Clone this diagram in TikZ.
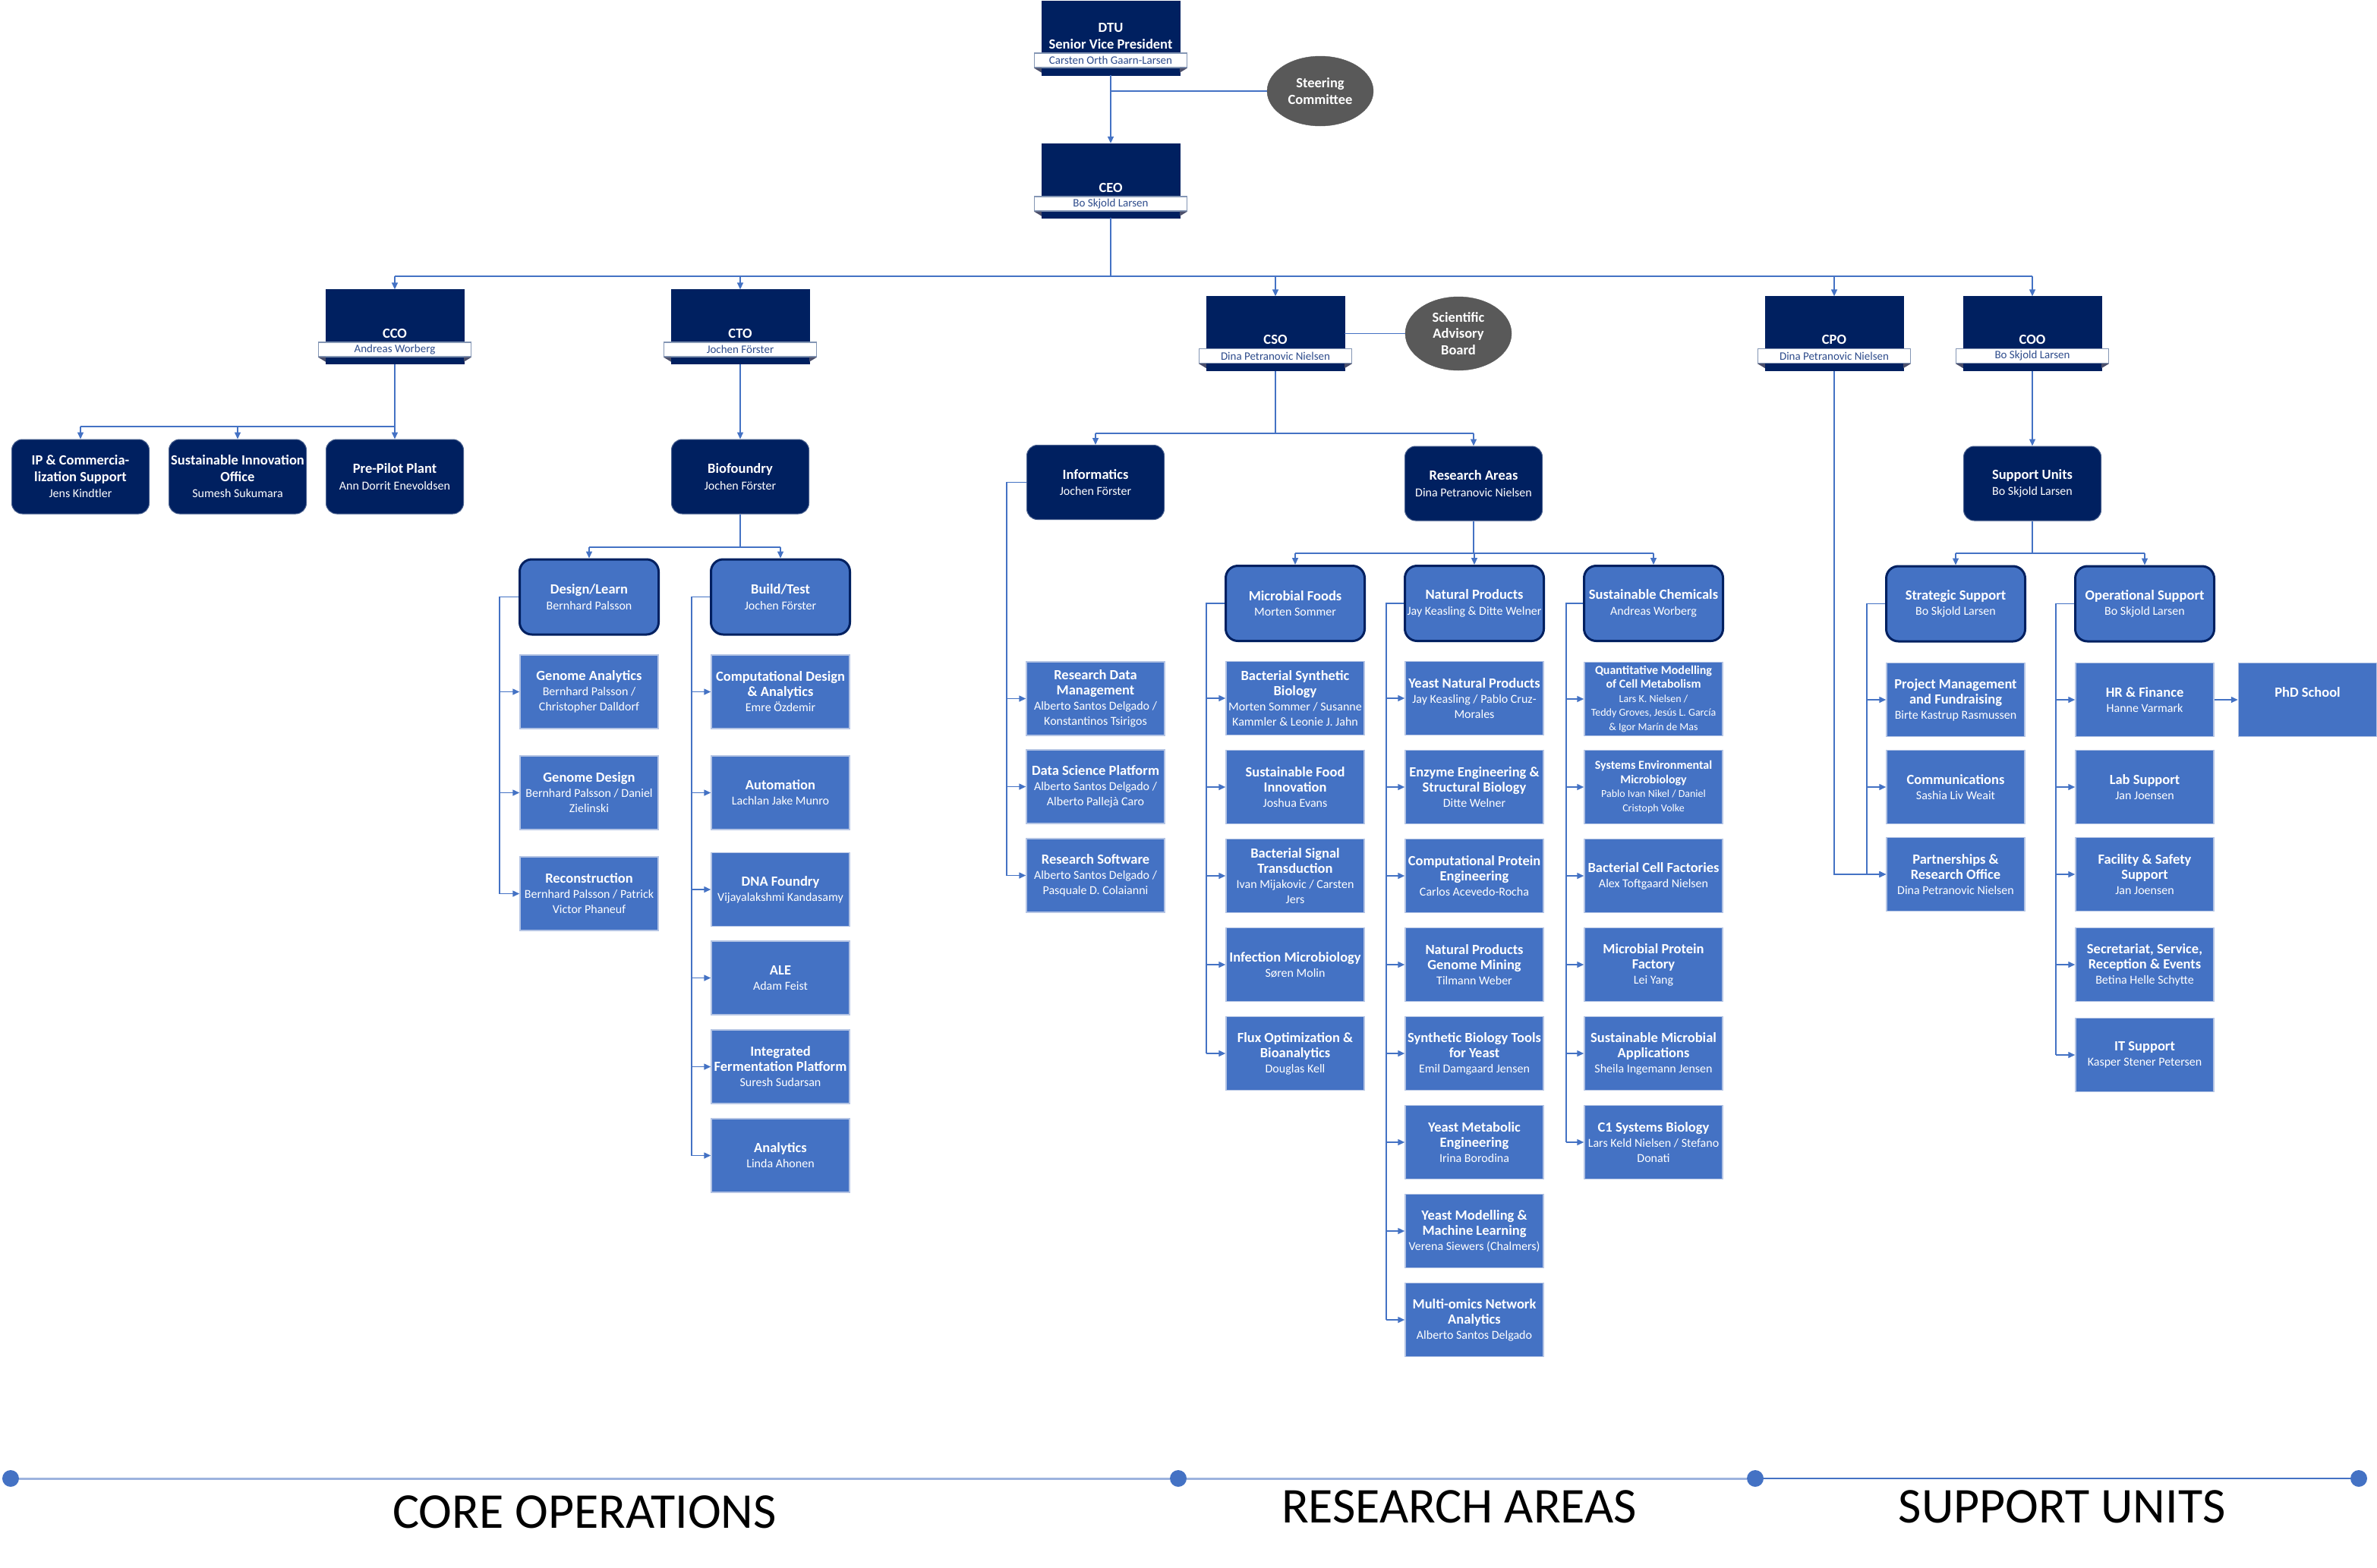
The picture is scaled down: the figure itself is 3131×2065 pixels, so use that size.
\documentclass[tikz,border=0pt]{standalone}
\usepackage{fontspec}
\setmainfont{Carlito}
\usetikzlibrary{arrows.meta,shapes.geometric,calc}

\definecolor{navy}{HTML}{002060}
\definecolor{mblue}{HTML}{4472C4}
\definecolor{lbord}{HTML}{B4C4E4}
\definecolor{egray}{HTML}{595959}
\definecolor{tlight}{HTML}{9DB3DE}
\definecolor{bantext}{HTML}{2E4C8C}
\definecolor{banbord}{HTML}{8496B4}
\definecolor{foldc}{HTML}{4B4F6B}

\newcommand{\BTitle}[1]{{\fontsize{18.5}{20}\selectfont\bfseries #1}}
\newcommand{\STitle}[1]{{\fontsize{16}{18.5}\selectfont\bfseries #1}}
\newcommand{\ribbonfolds}[2]{%
  \fill[foldc] (#2.south west) -- (#2.south west -| #1.west) -- ([yshift=-6pt]#2.south west -| #1.west) -- cycle;
  \fill[foldc] (#2.south east) -- (#2.south east -| #1.east) -- ([yshift=-6pt]#2.south east -| #1.east) -- cycle;}

\begin{document}
\begin{tikzpicture}[x=1pt,y=-1pt,
  topbox/.style={fill=navy, draw=navy, minimum width=182pt, minimum height=98pt, inner sep=0pt},
  banner/.style={fill=white, draw=banbord, line width=1.2pt, minimum width=201pt, minimum height=19pt, inner sep=0pt, text=bantext, font=\fontsize{15}{16}\selectfont},
  toptitle/.style={text=white, inner sep=0pt, font=\fontsize{18.5}{20}\selectfont\bfseries},
  navybox/.style={fill=navy, draw=navy!70!white, line width=1pt, rounded corners=14pt, minimum width=181pt, minimum height=98pt, inner sep=0pt, text=white, align=center, font=\fontsize{16}{21.5}\selectfont},
  headbox/.style={fill=mblue, draw=navy, line width=3pt, rounded corners=16pt, minimum width=183pt, minimum height=99pt, inner sep=0pt, text=white, align=center, font=\fontsize{16}{20.5}\selectfont},
  unit/.style={fill=mblue, draw=lbord, line width=1.5pt, minimum width=182pt, minimum height=97pt, inner sep=0pt, text=white, align=center, font=\fontsize{16}{20}\selectfont},
  smallunit/.style={unit, font=\fontsize{14}{18.5}\selectfont},
  oval/.style={ellipse, fill=egray, draw=egray, text=white, align=center, inner sep=0pt, font=\fontsize{18.5}{21.5}\selectfont\bfseries},
  conn/.style={draw=mblue, line width=1.5pt},
  arr/.style={conn, -{Triangle[length=9pt,width=8pt]}},
  tdot/.style={circle, fill=mblue, draw=none, minimum size=22pt, inner sep=0pt},
  tlabel/.style={inner sep=0pt, text=black, font=\fontsize{66}{70}\selectfont}
]
\useasboundingbox (0,0) rectangle (3131,2065);

% ---------------- top ----------------
\node[topbox] (dtu) at (1463,50) {};
\node[banner] (dtub) at (1463,79.5) {Carsten Orth Gaarn-Larsen};
\ribbonfolds{dtu}{dtub}
\node[toptitle,anchor=base] (dtut2) at ([yshift=5pt]dtub.north) {Senior Vice President};
\node[toptitle,anchor=base] (dtut1) at ([yshift=27pt]dtub.north) {DTU};

\node[oval, minimum width=140pt, minimum height=92pt] (steer) at (1739,120) {Steering\\Committee};

\node[topbox] (ceo) at (1463,238) {};
\node[banner] (ceob) at (1463,268.5) {Bo Skjold Larsen};
\ribbonfolds{ceo}{ceob}
\node[toptitle,anchor=base] (ceot) at ([yshift=5pt]ceob.north) {CEO};

% ---------------- chiefs ----------------
\node[topbox] (cco) at (520,430.5) {};
\node[banner] (ccob) at (520,460.5) {Andreas Worberg};
\ribbonfolds{cco}{ccob}
\node[toptitle,anchor=base] (ccot) at ([yshift=5pt]ccob.north) {CCO};

\node[topbox] (cto) at (975,430.5) {};
\node[banner] (ctob) at (975,460.5) {Jochen Förster};
\ribbonfolds{cto}{ctob}
\node[toptitle,anchor=base] (ctot) at ([yshift=5pt]ctob.north) {CTO};

\node[topbox] (cso) at (1680,439.5) {};
\node[banner] (csob) at (1680,469) {Dina Petranovic Nielsen};
\ribbonfolds{cso}{csob}
\node[toptitle,anchor=base] (csot) at ([yshift=5pt]csob.north) {CSO};

\node[oval, minimum width=140pt, minimum height=97pt] (sab) at (1921,439.5) {Scientific\\Advisory\\Board};

\node[topbox] (cpo) at (2416,439.5) {};
\node[banner] (cpob) at (2416,469) {Dina Petranovic Nielsen};
\ribbonfolds{cpo}{cpob}
\node[toptitle,anchor=base] (cpot) at ([yshift=5pt]cpob.north) {CPO};

\node[topbox] (coo) at (2677,439.5) {};
\node[banner] (coob) at (2677,469) {Bo Skjold Larsen};
\ribbonfolds{coo}{coob}
\node[toptitle,anchor=base] (coot) at ([yshift=5pt]coob.north) {COO};

% ---------------- level 3 ----------------
\node[navybox] (ip)  at (106,628) {\BTitle{IP \& Commercia-}\\\BTitle{lization Support}\\Jens Kindtler};
\node[navybox] (sio) at (313,628) {\BTitle{Sustainable Innovation}\\\BTitle{Office}\\Sumesh Sukumara};
\node[navybox] (ppp) at (520,628) {\BTitle{Pre-Pilot Plant}\\Ann Dorrit Enevoldsen};
\node[navybox] (bio) at (975,628) {\BTitle{Biofoundry}\\Jochen Förster};
\node[navybox] (inf) at (1443,635.5) {\BTitle{Informatics}\\Jochen Förster};
\node[navybox] (ra)  at (1941,637) {\BTitle{Research Areas}\\Dina Petranovic Nielsen};
\node[navybox] (su)  at (2677,637) {\BTitle{Support Units}\\Bo Skjold Larsen};

% ---------------- level 4 ----------------
\node[headbox] (dl) at (776,786.5) {\BTitle{Design/Learn}\\Bernhard Palsson};
\node[headbox] (bt) at (1028,786.5) {\BTitle{Build/Test}\\Jochen Förster};
\node[headbox] (mf) at (1706,795) {\BTitle{Microbial Foods}\\Morten Sommer};
\node[headbox] (np) at (1942,795) {\BTitle{Natural Products}\\Jay Keasling \& Ditte Welner};
\node[headbox] (sc) at (2178,795) {\BTitle{Sustainable Chemicals}\\Andreas Worberg};
\node[headbox] (ss) at (2576,795.5) {\BTitle{Strategic Support}\\Bo Skjold Larsen};
\node[headbox] (os) at (2825,795.5) {\BTitle{Operational Support}\\Bo Skjold Larsen};

% ---------------- Design/Learn ----------------
\node[unit] (ga)  at (776,911.5)  {\BTitle{Genome Analytics}\\Bernhard Palsson /\\Christopher Dalldorf};
\node[unit] (gd)  at (776,1044.5) {\BTitle{Genome Design}\\Bernhard Palsson / Daniel\\Zielinski};
\node[unit] (rec) at (776,1177.5) {\BTitle{Reconstruction}\\Bernhard Palsson / Patrick\\Victor Phaneuf};

% ---------------- Build/Test ----------------
\node[unit] (cda)  at (1028,911.5)  {\BTitle{Computational Design}\\\BTitle{\& Analytics}\\Emre Özdemir};
\node[unit] (auto) at (1028,1044.5) {\BTitle{Automation}\\Lachlan Jake Munro};
\node[unit] (dnaf) at (1028,1172)   {\BTitle{DNA Foundry}\\Vijayalakshmi Kandasamy};
\node[unit] (ale)  at (1028,1288.5) {\BTitle{ALE}\\Adam Feist};
\node[unit] (ifp)  at (1028,1405.5) {\BTitle{Integrated}\\\BTitle{Fermentation Platform}\\Suresh Sudarsan};
\node[unit] (ana)  at (1028,1522.5) {\BTitle{Analytics}\\Linda Ahonen};

% ---------------- Informatics ----------------
\node[unit] (rdm) at (1443,920.5)  {\BTitle{Research Data}\\\BTitle{Management}\\Alberto Santos Delgado /\\Konstantinos Tsirigos};
\node[unit] (dsp) at (1443,1036.5) {\BTitle{Data Science Platform}\\Alberto Santos Delgado /\\Alberto Pallejà Caro};
\node[unit] (rsw) at (1443,1153.5) {\BTitle{Research Software}\\Alberto Santos Delgado /\\Pasquale D. Colaianni};

% ---------------- Microbial Foods ----------------
\node[unit] (bsb) at (1706,920)  {\BTitle{Bacterial Synthetic}\\\BTitle{Biology}\\Morten Sommer / Susanne\\Kammler \& Leonie J. Jahn};
\node[unit] (sfi) at (1706,1037) {\BTitle{Sustainable Food}\\\BTitle{Innovation}\\Joshua Evans};
\node[unit] (bst) at (1706,1154) {\BTitle{Bacterial Signal}\\\BTitle{Transduction}\\Ivan Mijakovic / Carsten\\Jers};
\node[unit] (imb) at (1706,1271) {\BTitle{Infection Microbiology}\\Søren Molin};
\node[unit] (fob) at (1706,1388) {\BTitle{Flux Optimization \&}\\\BTitle{Bioanalytics}\\Douglas Kell};

% ---------------- Natural Products ----------------
\node[unit] (ynp)  at (1942,920)  {\BTitle{Yeast Natural Products}\\Jay Keasling / Pablo Cruz-\\Morales};
\node[unit] (eesb) at (1942,1037) {\BTitle{Enzyme Engineering \&}\\\BTitle{Structural Biology}\\Ditte Welner};
\node[unit] (cpe)  at (1942,1154) {\BTitle{Computational Protein}\\\BTitle{Engineering}\\Carlos Acevedo-Rocha};
\node[unit] (npgm) at (1942,1271) {\BTitle{Natural Products}\\\BTitle{Genome Mining}\\Tilmann Weber};
\node[unit] (sbty) at (1942,1388) {\BTitle{Synthetic Biology Tools}\\\BTitle{for Yeast}\\Emil Damgaard Jensen};
\node[unit] (yme)  at (1942,1505) {\BTitle{Yeast Metabolic}\\\BTitle{Engineering}\\Irina Borodina};
\node[unit] (ymml) at (1942,1622) {\BTitle{Yeast Modelling \&}\\\BTitle{Machine Learning}\\Verena Siewers (Chalmers)};
\node[unit] (mona) at (1942,1739) {\BTitle{Multi-omics Network}\\\BTitle{Analytics}\\Alberto Santos Delgado};

% ---------------- Sustainable Chemicals ----------------
\node[smallunit] (qmcm) at (2178,921) {\STitle{Quantitative Modelling}\\\STitle{of Cell Metabolism}\\Lars K. Nielsen /\\Teddy Groves, Jesús L. García\\\& Igor Marín de Mas};
\node[smallunit] (sem)  at (2178,1037) {\STitle{Systems Environmental}\\\STitle{Microbiology}\\Pablo Ivan Nikel / Daniel\\Cristoph Volke};
\node[unit] (bcf)  at (2178,1154) {\BTitle{Bacterial Cell Factories}\\Alex Toftgaard Nielsen};
\node[unit] (mpf)  at (2178,1271) {\BTitle{Microbial Protein}\\\BTitle{Factory}\\Lei Yang};
\node[unit] (sma)  at (2178,1388) {\BTitle{Sustainable Microbial}\\\BTitle{Applications}\\Sheila Ingemann Jensen};
\node[unit] (cone) at (2178,1505) {\BTitle{C1 Systems Biology}\\Lars Keld Nielsen / Stefano\\Donati};

% ---------------- Strategic Support ----------------
\node[unit] (pmf)  at (2576,922)  {\BTitle{Project Management}\\\BTitle{and Fundraising}\\Birte Kastrup Rasmussen};
\node[unit] (comm) at (2576,1037) {\BTitle{Communications}\\Sashia Liv Weait};
\node[unit] (pro)  at (2576,1152) {\BTitle{Partnerships \&}\\\BTitle{Research Office}\\Dina Petranovic Nielsen};

% ---------------- Operational Support ----------------
\node[unit] (hr)  at (2825,922)  {\BTitle{HR \& Finance}\\Hanne Varmark};
\node[unit] (lab) at (2825,1037) {\BTitle{Lab Support}\\Jan Joensen};
\node[unit] (fss) at (2825,1152) {\BTitle{Facility \& Safety}\\\BTitle{Support}\\Jan Joensen};
\node[unit] (srv) at (2825,1271) {\BTitle{Secretariat, Service,}\\\BTitle{Reception \& Events}\\Betina Helle Schytte};
\node[unit] (its) at (2825,1390) {\BTitle{IT Support}\\Kasper Stener Petersen};
\node[unit] (phd) at (3039.5,922) {\BTitle{PhD School}\\\mbox{}};

% ---------------- connectors ----------------
\draw[arr] (dtu.south) -- (ceo.north);
\draw[conn] (steer.west) -- (steer.west -| dtu.south);

\coordinate (busceo) at (0,364);
\draw[conn] (ceo.south) -- (ceo.south |- busceo);
\draw[conn] (cco.north |- busceo) -- (coo.north |- busceo);
\foreach \n in {cco,cto,cso,cpo,coo} \draw[arr] (\n.north |- busceo) -- (\n.north);

\coordinate (buscco) at (0,562);
\draw[conn] (cco.south) -- (cco.south |- buscco);
\draw[conn] (ip.north |- buscco) -- (ppp.north |- buscco);
\foreach \n in {ip,sio,ppp} \draw[arr] (\n.north |- buscco) -- (\n.north);

\draw[arr] (cto.south) -- (bio.north);
\coordinate (busbio) at (0,721);
\draw[conn] (bio.south) -- (bio.south |- busbio);
\draw[conn] (dl.north |- busbio) -- (bt.north |- busbio);
\foreach \n in {dl,bt} \draw[arr] (\n.north |- busbio) -- (\n.north);

\draw[conn] (cso.east) -- (sab.west);
\coordinate (buscso) at (0,571);
\draw[conn] (cso.south) -- (cso.south |- buscso);
\draw[conn] (inf.north |- buscso) -- (ra.north |- buscso);
\foreach \n in {inf,ra} \draw[arr] (\n.north |- buscso) -- (\n.north);

\coordinate (busra) at (0,729);
\draw[conn] (ra.south) -- (ra.south |- busra);
\draw[conn] (mf.north |- busra) -- (sc.north |- busra);
\foreach \n in {mf,np,sc} \draw[arr] (\n.north |- busra) -- (\n.north);

\draw[arr] (coo.south) -- (su.north);
\coordinate (bussu) at (0,729);
\draw[conn] (su.south) -- (su.south |- bussu);
\draw[conn] (ss.north |- bussu) -- (os.north |- bussu);
\foreach \n in {ss,os} \draw[arr] (\n.north |- bussu) -- (\n.north);

\draw[arr] (cpo.south) |- (pro.west);
\draw[arr] (hr.east) -- (phd.west);

% brackets
\coordinate (xdl) at (658,0);
\draw[conn] (dl.west) -| (xdl |- rec.west);
\foreach \n in {ga,gd,rec} \draw[arr] (xdl |- \n.west) -- (\n.west);

\coordinate (xbt) at (911,0);
\draw[conn] (bt.west) -| (xbt |- ana.west);
\foreach \n in {cda,auto,dnaf,ale,ifp,ana} \draw[arr] (xbt |- \n.west) -- (\n.west);

\coordinate (xinf) at (1326,0);
\draw[conn] (inf.west) -| (xinf |- rsw.west);
\foreach \n in {rdm,dsp,rsw} \draw[arr] (xinf |- \n.west) -- (\n.west);

\coordinate (xmf) at (1589,0);
\draw[conn] (mf.west) -| (xmf |- fob.west);
\foreach \n in {bsb,sfi,bst,imb,fob} \draw[arr] (xmf |- \n.west) -- (\n.west);

\coordinate (xnp) at (1826,0);
\draw[conn] (np.west) -| (xnp |- mona.west);
\foreach \n in {ynp,eesb,cpe,npgm,sbty,yme,ymml,mona} \draw[arr] (xnp |- \n.west) -- (\n.west);

\coordinate (xsc) at (2063,0);
\draw[conn] (sc.west) -| (xsc |- cone.west);
\foreach \n in {qmcm,sem,bcf,mpf,sma,cone} \draw[arr] (xsc |- \n.west) -- (\n.west);

\coordinate (xss) at (2459,0);
\draw[conn] (ss.west) -| (xss |- pro.west);
\foreach \n in {pmf,comm,pro} \draw[arr] (xss |- \n.west) -- (\n.west);

\coordinate (xos) at (2708,0);
\draw[conn] (os.west) -| (xos |- its.west);
\foreach \n in {hr,lab,fss,srv,its} \draw[arr] (xos |- \n.west) -- (\n.west);

% ---------------- timeline ----------------
\node[tdot] (t1) at (14,1948) {};
\node[tdot] (t2) at (1552,1948) {};
\node[tdot] (t3) at (2312,1948) {};
\node[tdot] (t4) at (3107,1948) {};
\draw[draw=tlight, line width=3pt] (t1) -- (t2);
\draw[draw=tlight, line width=3pt] (t2) -- (t3);
\draw[draw=mblue, line width=1.5pt] (t3) -- (t4);
\node[tlabel] (lcore) at (770,1992) {CORE OPERATIONS};
\node[tlabel] (lres)  at (1922,1985) {RESEARCH AREAS};
\node[tlabel] (lsup)  at (2716,1985) {SUPPORT UNITS};
\end{tikzpicture}
\end{document}
